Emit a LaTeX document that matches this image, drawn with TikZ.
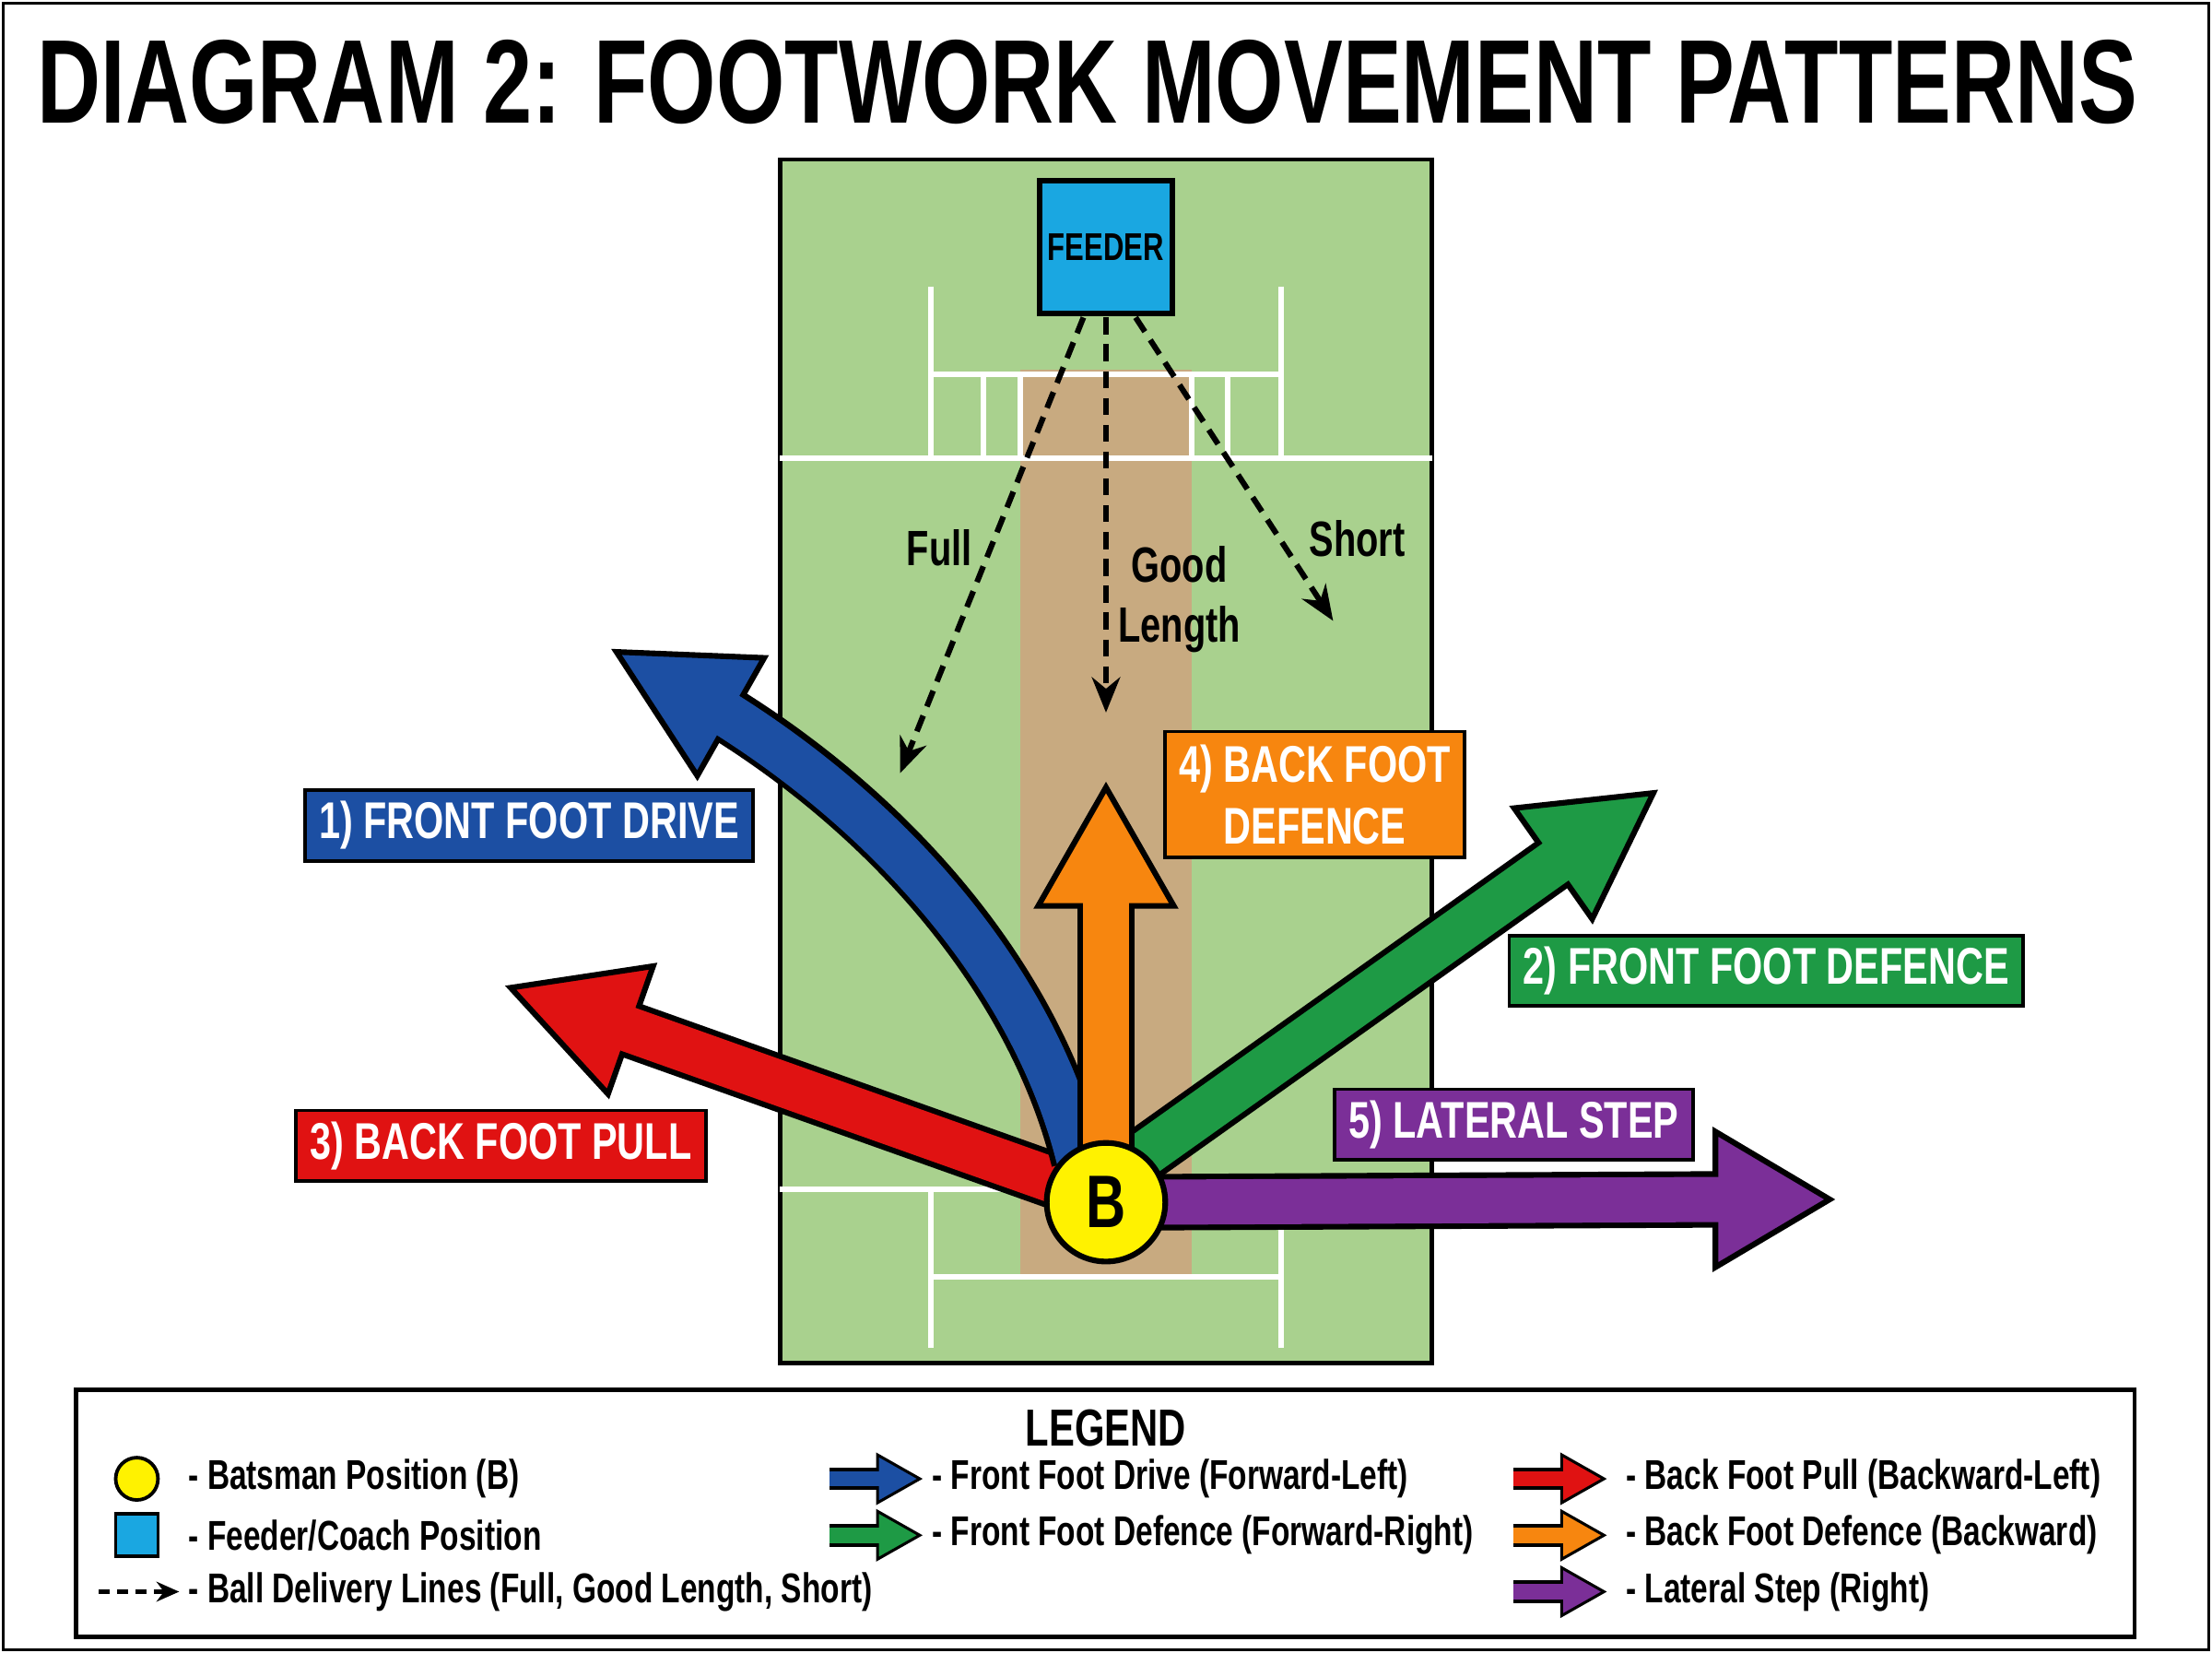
\documentclass[tikz,border=0pt]{standalone}
\usepackage{fontspec}
\setmainfont{Liberation Sans}[FakeStretch=0.74]
\usetikzlibrary{calc,arrows.meta}
\definecolor{cblue}{HTML}{1C4FA3}
\definecolor{cgreen}{HTML}{1E9A45}
\definecolor{cred}{HTML}{E01212}
\definecolor{corange}{HTML}{F7860F}
\definecolor{cpurple}{HTML}{7B2F98}
\definecolor{field}{HTML}{A9D18E}
\definecolor{pitch}{HTML}{C8AA80}
\definecolor{feeder}{HTML}{1AA7E1}
\definecolor{byellow}{HTML}{FFF200}
\newcommand\fatarrow[4]{% start, base, tip, colour (straight)
  \draw[black,line width=0.40cm] (#1) -- (#2);
  \fill[#4,draw=black,line width=0.04cm,line join=miter] ($(#2)!0.48cm!90:(#3)$) -- (#3) -- ($(#2)!0.48cm!-90:(#3)$) -- cycle;
  \draw[#4,line width=0.32cm] (#1) -- ($(#2)!0.05cm!(#3)$);}
\newcommand\fathead[3]{\fill[#3,draw=black,line width=0.04cm,line join=miter] ($(#1)!0.48cm!90:(#2)$) -- (#2) -- ($(#1)!0.48cm!-90:(#2)$) -- cycle;}
\begin{document}
\begin{tikzpicture}[x=0.01cm,y=-0.01cm,
  lab/.style={draw=black,line width=0.025cm,text=white,font=\bfseries\fontsize{10.4}{12.5}\selectfont,inner xsep=0.1cm,inner ysep=0.08cm,align=center},
  wl/.style={white,line width=0.04cm},
  dl/.style={black,line width=0.04cm,dash pattern=on 0.12cm off 0.07cm,-{Stealth[length=0.25cm,width=0.2cm]}},
  leg/.style={font=\bfseries\fontsize{8.4}{10}\selectfont,anchor=west,inner sep=0}]
\useasboundingbox (0,0) rectangle (1568,1171);
\draw[black,line width=0.02cm] (2,2) rectangle (1566,1169);
\node[font=\bfseries\fontsize{24}{28}\selectfont] (title) at (771,58) {DIAGRAM 2: FOOTWORK MOVEMENT PATTERNS};
% field
\draw[fill=field,line width=0.03cm] (553,113) rectangle (1015,966);
\fill[pitch] (723,262) rectangle (845,903);
\draw[wl] (553,325) -- (1015,325);
\draw[wl] (660,203) -- (660,325) (908,203) -- (908,325) (660,265) -- (908,265);
\draw[wl] (697,265) -- (697,325) (723,265) -- (723,325) (845,265) -- (845,325) (870,265) -- (870,325);
\draw[wl] (553,843) -- (1015,843);
\draw[wl] (660,843) -- (660,955) (908,843) -- (908,955) (660,905) -- (908,905);
% feeder
\node[draw=black,line width=0.04cm,fill=feeder,minimum size=0.94cm,inner sep=0,font=\bfseries\fontsize{7.8}{9}\selectfont] (feeder) at (784,175) {FEEDER};
\coordinate (fullE) at (638,548);
\coordinate (goodE) at (784,505);
\coordinate (shortE) at (945,440);
\draw[dl] (768,225) -- (fullE);
\draw[dl] (784,225) -- (goodE);
\draw[dl] (805,225) -- (shortE);
\node[font=\bfseries\fontsize{10}{12}\selectfont] (full) at (666,388) {Full};
\node[font=\bfseries\fontsize{10}{12}\selectfont,align=center] (good) at (836,425) {Good\\Length};
\node[font=\bfseries\fontsize{10}{12}\selectfont] (short) at (962,382) {Short};
% arrows
\coordinate (B) at (784,852);
\fatarrow{762,842}{447,730}{362,700}{cred}
\draw[black,line width=0.40cm] (765,822) .. controls (735,700) and (640,585) .. (518,508);
\fathead{518,508}{437,462}{cblue}
\draw[cblue,line width=0.32cm] (765,822) .. controls (735,700) and (640,585) .. ($(518,508)!0.05cm!(437,462)$);
\fatarrow{800,826}{1101,612}{1172,562}{cgreen}
\fatarrow{784,820}{784,642}{784,558}{corange}
\fatarrow{815,852}{1216,850}{1297,850}{cpurple}
\node[draw=black,line width=0.04cm,fill=byellow,circle,minimum size=0.84cm,inner sep=0,font=\bfseries\fontsize{15}{17}\selectfont] (bat) at (B) {B};
% labels
\node[lab,fill=cblue,minimum width=3.14cm,minimum height=0.48cm] (l1) at (375,585) {1) FRONT FOOT DRIVE};
\node[lab,fill=corange,minimum width=2.09cm,minimum height=0.89cm] (l4) at (932,563) {4) BACK FOOT\\DEFENCE};
\node[lab,fill=cgreen,minimum width=3.55cm,minimum height=0.49cm] (l2) at (1252,688) {2) FRONT FOOT DEFENCE};
\node[lab,fill=cred,minimum width=2.86cm,minimum height=0.49cm] (l3) at (355,812) {3) BACK FOOT PULL};
\node[lab,fill=cpurple,minimum width=2.54cm,minimum height=0.49cm] (l5) at (1073,797) {5) LATERAL STEP};
% legend
\draw[line width=0.03cm] (54,985) rectangle (1513,1160);
\node[font=\bfseries\fontsize{10.5}{13}\selectfont] (legend) at (784,1012) {LEGEND};
\node[draw=black,line width=0.025cm,fill=byellow,circle,minimum size=0.3cm,inner sep=0] (lb) at (97,1048) {};
\node[draw=black,line width=0.025cm,fill=feeder,minimum size=0.3cm,inner sep=0] (lf) at (97,1088) {};
\coordinate (ld1) at (70,1128); \coordinate (ld2) at (127,1128);
\draw[black,line width=0.03cm,dash pattern=on 0.08cm off 0.05cm,-{Stealth[length=0.16cm,width=0.14cm]}] (ld1) -- (ld2);
\node[leg] (t1) at (133,1048) {- Batsman Position (B)};
\node[leg] (t2) at (133,1088) {- Feeder/Coach Position};
\node[leg] (t3) at (133,1128) {- Ball Delivery Lines (Full, Good Length, Short)};
\foreach \n/\x/\y/\c in {a/588/1048/cblue,b/588/1088/cgreen,c/1073/1048/cred,d/1073/1088/corange,e/1073/1128/cpurple}{
  \coordinate (s\n) at (\x,\y);
  \coordinate (e\n) at ($(\x,\y)+(64,0)$);
  \draw[black,line width=0.16cm] (s\n) -- ($(e\n)+(-30,0)$);
  \fill[\c,draw=black,line width=0.02cm] ($(e\n)+(-30,-17)$) -- (e\n) -- ($(e\n)+(-30,17)$) -- cycle;
  \draw[\c,line width=0.11cm] (s\n) -- ($(e\n)+(-28,0)$);
}
\node[leg] (t4) at (660,1048) {- Front Foot Drive (Forward-Left)};
\node[leg] (t5) at (660,1088) {- Front Foot Defence (Forward-Right)};
\node[leg] (t6) at (1152,1048) {- Back Foot Pull (Backward-Left)};
\node[leg] (t7) at (1152,1088) {- Back Foot Defence (Backward)};
\node[leg] (t8) at (1152,1128) {- Lateral Step (Right)};
\end{tikzpicture}
\end{document}
